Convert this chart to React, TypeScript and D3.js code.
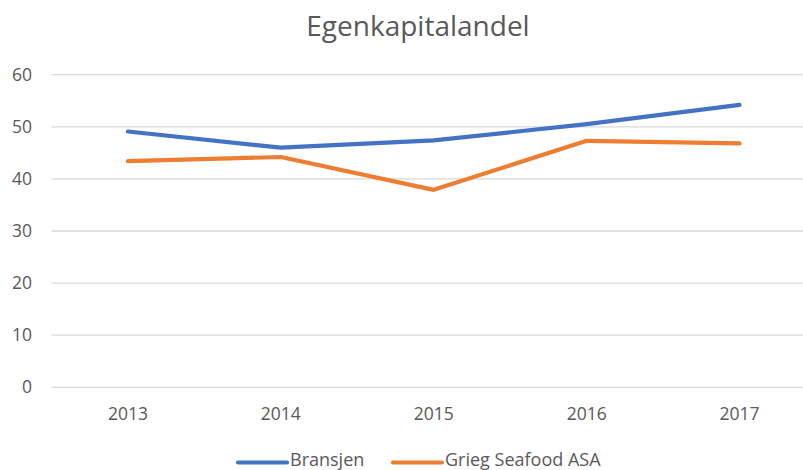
import React from "react";
import * as d3 from "d3";

const categories = ["2013", "2014", "2015", "2016", "2017"];
const bransjen = [49.1, 46.0, 47.4, 50.5, 54.2];
const grieg = [43.4, 44.2, 37.9, 47.3, 46.8];
const yTicks = [0, 10, 20, 30, 40, 50, 60];
const seriesNames = ["Bransjen", "Grieg Seafood ASA"];
const colors = ["#4472C4", "#ED7D31"];

const W = 803;
const H = 470;
const FONT = "'Open Sans', sans-serif";
const TEXT = "#595959";

export default function App() {
  const x = d3.scaleBand<string>().domain(categories).range([51.5, 816]);
  const y = d3.scaleLinear().domain([0, 60]).range([387.3, 74.7]);
  const line = d3
    .line<number>()
    .x((_, i) => (x(categories[i]) as number) + x.bandwidth() / 2)
    .y((d) => y(d));
  const series = [bransjen, grieg];

  return (
    <svg
      width={W}
      height={H}
      style={{ position: "absolute", left: 0, top: 0, background: "#fff" }}
    >
      <rect width={W} height={H} fill="#fff" />
      <text
        x={418}
        y={36}
        textAnchor="middle"
        fontFamily={FONT}
        fontSize={28}
        fill={TEXT}
      >
        Egenkapitalandel
      </text>
      {yTicks.map((t) => (
        <g key={t}>
          <line
            x1={51.5}
            x2={W}
            y1={y(t)}
            y2={y(t)}
            stroke="#d9d9d9"
            strokeWidth={1.3}
          />
          <text
            x={32}
            y={y(t)}
            dy="0.35em"
            textAnchor="end"
            fontFamily={FONT}
            fontSize={17.5}
            fill={TEXT}
          >
            {t}
          </text>
        </g>
      ))}
      {categories.map((c) => (
        <text
          key={c}
          x={(x(c) as number) + x.bandwidth() / 2}
          y={420}
          textAnchor="middle"
          fontFamily={FONT}
          fontSize={17.5}
          fill={TEXT}
        >
          {c}
        </text>
      ))}
      {series.map((s, i) => (
        <path
          key={i}
          d={line(s) as string}
          fill="none"
          stroke={colors[i]}
          strokeWidth={4.2}
          strokeLinecap="round"
          strokeLinejoin="round"
        />
      ))}
      {seriesNames.map((n, i) => {
        const lx = i === 0 ? 238 : 393;
        return (
          <g key={n}>
            <line
              x1={lx}
              x2={lx + 49}
              y1={462.5}
              y2={462.5}
              stroke={colors[i]}
              strokeWidth={4.2}
              strokeLinecap="round"
            />
            <text
              x={lx + 52}
              y={466}
              fontFamily={FONT}
              fontSize={18}
              fill={TEXT}
            >
              {n}
            </text>
          </g>
        );
      })}
    </svg>
  );
}
